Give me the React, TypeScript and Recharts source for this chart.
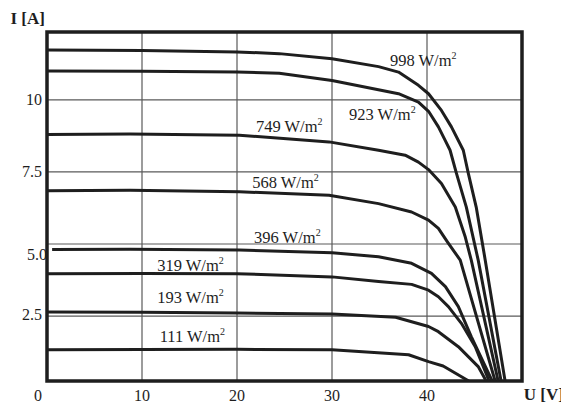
import React from "react";
import { LineChart, Line, XAxis, YAxis, CartesianGrid, ReferenceArea, ReferenceDot } from "recharts";

// Irradiance curves (U in V, I in A)
const U998 = [0, 10, 20, 24.45, 30, 34.9, 37, 39.1, 40.16, 41.52, 42.57, 43.82, 44.35, 45.18, 46.13, 48.22];
const I998 = [11.73, 11.71, 11.66, 11.6, 11.42, 11.15, 10.96, 10.5, 10.21, 9.63, 9.06, 8.25, 7.45, 6.28, 4.44, 0.25];
const U923 = [0, 10, 20, 24.45, 30, 37, 39.1, 40.16, 41.2, 41.9, 42.43, 43.1, 44.14, 45.39, 47.8];
const I923 = [11.0, 10.99, 10.96, 10.92, 10.67, 10.21, 9.92, 9.6, 9.06, 8.6, 8.25, 7.45, 6.28, 4.44, 0.25];
const U749 = [0, 8.74, 20.26, 29.69, 34.9, 37.7, 39.1, 40.16, 41.52, 42.98, 44.03, 44.66, 47.49];
const I749 = [8.8, 8.81, 8.77, 8.54, 8.25, 8.08, 7.84, 7.58, 7.1, 6.28, 5.24, 4.44, 0.25];
const U568 = [0, 8.74, 20.26, 29.69, 34.9, 38.38, 40.16, 41.2, 42.2, 43.5, 47.17];
const I568 = [6.85, 6.86, 6.81, 6.69, 6.4, 6.11, 5.83, 5.54, 5.05, 4.44, 0.25];
const U396 = [0.54, 8.74, 20.26, 30, 34.9, 38.38, 40.47, 41.94, 43.3, 44.66, 46.86];
const I396 = [4.81, 4.82, 4.79, 4.7, 4.56, 4.33, 3.98, 3.52, 2.83, 1.79, 0.25];
const U319 = [0, 10, 20, 30, 34.9, 38.38, 40.16, 41.2, 42.25, 43.62, 45.08, 46.54];
const I319 = [3.97, 3.98, 3.97, 3.86, 3.7, 3.6, 3.4, 3.17, 2.83, 2.25, 1.44, 0.25];
const U193 = [0, 10, 20, 30, 36.7, 40.16, 41.2, 43.3, 45.39, 46.23];
const I193 = [2.64, 2.63, 2.61, 2.57, 2.46, 2.14, 1.96, 1.44, 0.75, 0.25];
const U111 = [0, 10, 20, 30, 38.06, 40.16, 41.7, 44.4];
const I111 = [1.33, 1.34, 1.35, 1.33, 1.16, 0.92, 0.77, 0.25];

const X_TICKS = [0, 10, 20, 30, 40];
const Y_TICKS = [2.5, 5, 7.5, 10];
const Y_TICK_LABELS = ["2.5", "5.0", "7.5", "10"];

const CURVE_NAMES = ["998", "923", "749", "568", "396", "319", "193", "111"];
const LABEL_U = [39.6, 35.3, 25.5, 25.1, 25.3, 15.1, 15.1, 15.3];
const LABEL_I = [11.36, 9.49, 9.08, 7.14, 5.24, 4.27, 3.16, 1.81];

const zip = (u: number[], i: number[]) => u.map((v, k) => ({ U: v, I: i[k] }));
const CURVES = [
  zip(U998, I998),
  zip(U923, I923),
  zip(U749, I749),
  zip(U568, I568),
  zip(U396, I396),
  zip(U319, I319),
  zip(U193, I193),
  zip(U111, I111),
];

const FONT = "'Liberation Serif', 'Times New Roman', serif";
const INK = "#1e1e1e";

const XTick = (p: any) => {
  const v = p.payload.value;
  const dx = v === 0 ? -9 : 0;
  return (
    <text x={p.x + dx} y={p.y + 19.5} textAnchor="middle" fontFamily={FONT} fontSize={16} fill={INK}>
      {String(v)}
    </text>
  );
};

const YTick = (p: any) => {
  const v = p.payload.value;
  const idx = Y_TICKS.indexOf(v);
  const label = idx >= 0 ? Y_TICK_LABELS[idx] : String(v);
  let dx = -5;
  let dy = 5.5;
  if (v === 5) {
    dx = 0;
    dy = 16;
  }
  if (v === 2.5) {
    dx = -5;
    dy = 3.5;
  }
  return (
    <text x={p.x + dx} y={p.y + dy} textAnchor="end" fontFamily={FONT} fontSize={16} fill={INK}>
      {label}
    </text>
  );
};

const makeCurveLabel = (name: string) => (p: any) => {
  const vb = p.viewBox || p;
  const x = (vb.x ?? vb.cx) + (vb.width || 0) / 2;
  const y = (vb.y ?? vb.cy) + (vb.height || 0) / 2;
  return (
    <text x={x} y={y + 5.5} textAnchor="middle" fontFamily={FONT} fontSize={16.5} fill={INK}>
      {name} W/m
      <tspan fontSize={10} dy={-7}>2</tspan>
    </text>
  );
};

const makeTitle = (text: string) => (p: any) => {
  const vb = p.viewBox || p;
  const x = (vb.x ?? vb.cx) + (vb.width || 0) / 2;
  const y = (vb.y ?? vb.cy) + (vb.height || 0) / 2;
  return (
    <text x={x} y={y + 6} textAnchor="middle" fontFamily={FONT} fontSize={17} fontWeight="bold" fill={INK}>
      {text}
    </text>
  );
};

export default function App() {
  return (
    <div style={{ width: 561, height: 398 }}>
      <LineChart
        width={561}
        height={398}
        margin={{ top: 24, right: 47, bottom: 0, left: 9 }}
        style={{ overflow: "visible" }}
      >
        <CartesianGrid stroke="#5a5a5a" strokeWidth={1.2} vertical horizontal />
        <XAxis
          type="number"
          dataKey="U"
          domain={[0, 50]}
          ticks={X_TICKS}
          allowDataOverflow
          height={25}
          tickSize={0}
          tickMargin={0}
          axisLine={false}
          tickLine={false}
          tick={<XTick />}
        />
        <YAxis
          type="number"
          dataKey="I"
          domain={[0.25, 12.35]}
          ticks={Y_TICKS}
          allowDataOverflow
          width={30}
          tickSize={0}
          tickMargin={0}
          axisLine={false}
          tickLine={false}
          tick={<YTick />}
        />
        {CURVES.map((d, k) => (
          <Line
            key={CURVE_NAMES[k]}
            data={d}
            dataKey="I"
            type="linear"
            stroke={INK}
            strokeWidth={3}
            dot={false}
            activeDot={false}
            isAnimationActive={false}
            strokeLinejoin="round"
          />
        ))}
        <ReferenceArea x1={0} x2={50} y1={0.25} y2={12.35} fill="none" stroke={INK} strokeWidth={3.5} ifOverflow="visible" />
        {CURVE_NAMES.map((n, k) => (
          <ReferenceDot
            key={"l" + n}
            x={LABEL_U[k]}
            y={LABEL_I[k]}
            r={0}
            fill="none"
            stroke="none"
            ifOverflow="visible"
            label={makeCurveLabel(n)}
          />
        ))}
        <ReferenceDot x={-2.04} y={12.82} r={0} fill="none" stroke="none" ifOverflow="visible" label={makeTitle("I [A]")} />
        <ReferenceDot x={52.3} y={-0.19} r={0} fill="none" stroke="none" ifOverflow="visible" label={makeTitle("U [V]")} />
      </LineChart>
    </div>
  );
}
